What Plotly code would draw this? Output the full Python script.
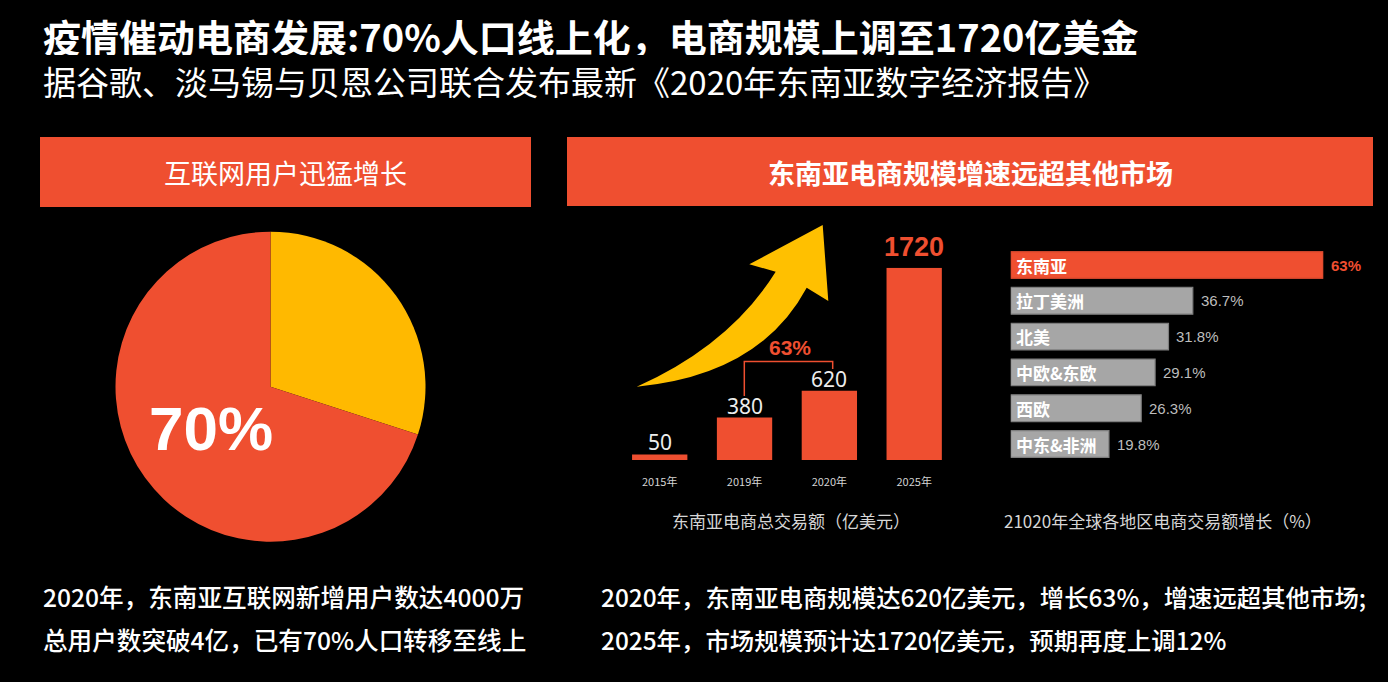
import plotly.graph_objects as go

W, H = 1388, 682


def px(x):
    return x / W


def py(y):
    return 1 - y / H


# ---------------- data ----------------
pie_labels = ["其他", "线上人口"]
pie_values = [30, 70]

years = ["2015年", "2019年", "2020年", "2025年"]
gmv = [50, 380, 620, 1720]

regions = ["东南亚", "拉丁美洲", "北美", "中欧&东欧", "西欧", "中东&非洲"]
growth = [63, 36.7, 31.8, 29.1, 26.3, 19.8]

title = "疫情催动电商发展:70%人口线上化，电商规模上调至1720亿美金"
subtitle = "据谷歌、淡马锡与贝恩公司联合发布最新《2020年东南亚数字经济报告》"
left_header = "互联网用户迅猛增长"
right_header = "东南亚电商规模增速远超其他市场"
bar_caption = "东南亚电商总交易额（亿美元）"
hbar_caption = "21020年全球各地区电商交易额增长（%）"
growth_note = "63%"
left_notes = ["2020年，东南亚互联网新增用户数达4000万", "总用户数突破4亿，已有70%人口转移至线上"]
right_notes = ["2020年，东南亚电商规模达620亿美元，增长63%，增速远超其他市场;",
               "2025年，市场规模预计达1720亿美元，预期再度上调12%"]

# ---------------- styles ----------------
RED = "#EF4F30"
YEL = "#FFB900"
ARROW = "#FFC000"
GRAY = "#A6A6A6"
CJK = "Noto Sans CJK SC"
ARIAL = "Liberation Sans, Arial, sans-serif"

fig = go.Figure()

# pie
fig.add_trace(go.Pie(
    labels=pie_labels, values=pie_values, sort=False, direction="clockwise", rotation=0,
    marker=dict(colors=[YEL, RED], line=dict(width=0)),
    textinfo="none", hoverinfo="skip", showlegend=False,
    domain=dict(x=[px(115), px(426)], y=[py(541.7), py(231.7)]),
))

# vertical bars
fig.add_trace(go.Bar(
    x=years, y=gmv, xaxis="x", yaxis="y", marker=dict(color=RED, line=dict(width=0)),
    width=0.652, showlegend=False, hoverinfo="skip",
))

# horizontal bars
hcolors = [RED if i == 0 else GRAY for i in range(len(regions))]
hlines = ["#C9442B" if i == 0 else "#7E7E7E" for i in range(len(regions))]
fig.add_trace(go.Bar(
    x=growth, y=regions, orientation="h", xaxis="x2", yaxis="y2",
    marker=dict(color=hcolors, line=dict(color=hlines, width=1.2)),
    width=0.745, showlegend=False, hoverinfo="skip",
))

ann = []


def note(text, x, y, font, xanchor="center", height=None):
    d = dict(text=text, x=px(x), y=py(y), xref="paper", yref="paper",
             xanchor=xanchor, yanchor="middle", showarrow=False, font=font)
    if height:
        d["height"] = height
    ann.append(d)


# titles
note(title, 41, 35, dict(family=CJK, size=38, color="white", weight="bold"), "left", 40)
note(subtitle, 41, 80.5, dict(family=CJK, size=33, color="white"), "left", 36)
# headers
note(left_header, 285.5, 172, dict(family=CJK, size=27, color="white"))
note(right_header, 970, 172, dict(family=CJK, size=27, color="white", weight="bold"))
# pie label
note("70%", 210.5, 428.5, dict(family=ARIAL, size=62, color="white", weight="bold"))

# bar value labels
for i, (yr, v) in enumerate(zip(years, gmv)):
    if i == len(years) - 1:
        f = dict(family=ARIAL, size=27, color=RED, weight="bold")
        sh = 21
    else:
        f = dict(family="Noto Sans", size=21, color="#EDEDED")
        sh = 12
    ann.append(dict(text=str(v), x=yr, y=v, xref="x", yref="y", xanchor="center",
                    yanchor="middle", yshift=sh, showarrow=False, font=f))

# growth note above bracket
note(growth_note, 790, 347.5, dict(family=ARIAL, size=21, color=RED, weight="bold"))

# horizontal bar labels
for i, (r, g) in enumerate(zip(regions, growth)):
    ann.append(dict(text=r, x=0, y=r, xref="x2", yref="y2", xanchor="left", yanchor="middle",
                    xshift=3, showarrow=False,
                    font=dict(family=CJK, size=17, color="white", weight="bold")))
    lbl = f"{g:g}%"
    if i == 0:
        f = dict(family=ARIAL, size=15, color=RED, weight="bold")
    else:
        f = dict(family=ARIAL, size=15, color="#BDBDBD")
    ann.append(dict(text=lbl, x=g, y=r, xref="x2", yref="y2", xanchor="left", yanchor="middle",
                    xshift=6, showarrow=False, font=f))

# captions
note(bar_caption, 791, 520, dict(family=CJK, size=17, color="#D6D6D6"))
note(hbar_caption, 1163, 520, dict(family=CJK, size=17, color="#D6D6D6"))

# bottom notes
for k, t in enumerate(left_notes):
    note(t, 41, 596 + 43 * k, dict(family=CJK, size=24.6, color="white", weight=500), "left")
for k, t in enumerate(right_notes):
    note(t, 599, 596 + 43 * k, dict(family=CJK, size=24.4, color="white", weight=500), "left")

# shapes
shapes = []
shapes.append(dict(type="rect", xref="paper", yref="paper", x0=px(40), x1=px(531),
                   y0=py(207), y1=py(137), fillcolor=RED, line=dict(width=0), layer="below"))
shapes.append(dict(type="rect", xref="paper", yref="paper", x0=px(567), x1=px(1373),
                   y0=py(206), y1=py(137), fillcolor=RED, line=dict(width=0), layer="below"))


def P(x, y):
    return f"{px(x):.5f},{py(y):.5f}"


arrow_path = ("M " + P(636.7, 386.7) +
              " Q " + P(730, 345) + " " + P(775.7, 271.7) +
              " L " + P(749.3, 264.3) +
              " L " + P(822.7, 225) +
              " L " + P(828.3, 301) +
              " L " + P(806.7, 287.7) +
              " Q " + P(760, 375) + " " + P(636.7, 386.7) + " Z")
shapes.append(dict(type="path", xref="paper", yref="paper", path=arrow_path,
                   fillcolor=ARROW, line=dict(width=0)))

bracket = ("M " + P(744.3, 396) + " L " + P(744.3, 361.5) + " L " + P(832.7, 361.5) +
           " L " + P(832.7, 369))
shapes.append(dict(type="path", xref="paper", yref="paper", path=bracket,
                   line=dict(color=RED, width=1.5)))

fig.update_layout(
    width=W, height=H, margin=dict(l=0, r=0, t=0, b=0),
    paper_bgcolor="black", plot_bgcolor="black",
    annotations=ann, shapes=shapes, showlegend=False,
    xaxis=dict(domain=[px(617.3), px(956.6)], range=[-0.5, 3.5], type="category",
               showgrid=False, zeroline=False, showline=False, ticks="",
               tickfont=dict(family=CJK, size=11, color="#D4D4D4"), ticklabelstandoff=14,
               fixedrange=True),
    yaxis=dict(domain=[py(460), py(267.7)], range=[0, 1720], visible=False, fixedrange=True),
    xaxis2=dict(domain=[px(1010.7), px(1323.3)], range=[0, 63], visible=False,
                anchor="y2", fixedrange=True),
    yaxis2=dict(domain=[py(461.9), py(247.1)], type="category", range=[5.5, -0.5],
                visible=False, anchor="x2", fixedrange=True),
)

fig.write_html("out.html", include_plotlyjs=True, config={"displayModeBar": False})
